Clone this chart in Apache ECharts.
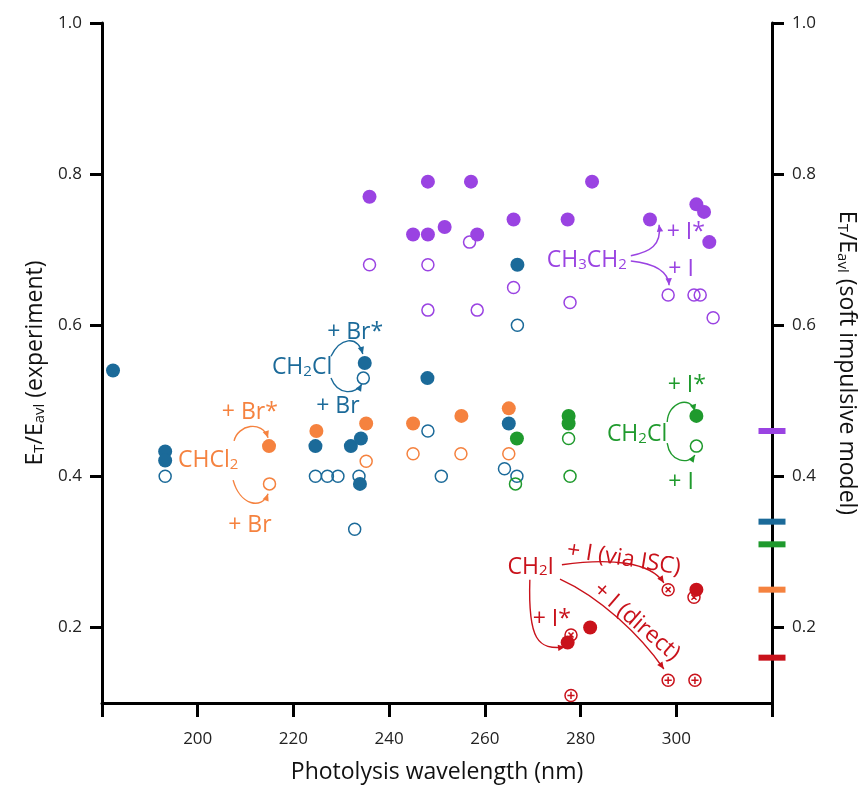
<!DOCTYPE html>
<html>
<head>
<meta charset="utf-8">
<script src="https://cdn.jsdelivr.net/npm/echarts@6/dist/echarts.min.js"></script>
<style>
  html, body { margin: 0; padding: 0; background: #fff; }
  #chart { width: 865px; height: 790px; }
</style>
</head>
<body>
<div id="chart"></div>
<script>
const BLUE = '#1b6a99', ORANGE = '#f5823f', PURPLE = '#9a43e2', GREEN = '#1f9a2d', RED = '#c9121b';
const FONT = 'Open Sans';

// [photolysis wavelength (nm), ET/Eavl]
const ch2clBrStar = [[182.3, 0.54], [193.2, 0.433], [193.2, 0.421], [224.6, 0.44], [232.0, 0.44], [234.1, 0.45],
  [233.9, 0.39], [234.9, 0.55], [248.0, 0.53], [265.0, 0.47], [266.8, 0.68]];
const ch2clBr = [[193.2, 0.40], [224.6, 0.40], [227.1, 0.40], [229.3, 0.40], [233.7, 0.40], [232.8, 0.33],
  [234.6, 0.53], [248.1, 0.46], [250.9, 0.40], [264.1, 0.41], [266.7, 0.40], [266.8, 0.60]];
const chcl2BrStar = [[214.9, 0.44], [224.8, 0.46], [235.2, 0.47], [245.0, 0.47], [255.1, 0.48], [265.0, 0.49]];
const chcl2Br = [[215.0, 0.39], [235.2, 0.42], [245.0, 0.43], [255.0, 0.43], [265.0, 0.43]];
const ethylIStar = [[235.9, 0.77], [248.1, 0.79], [257.1, 0.79], [282.4, 0.79], [245.0, 0.72], [248.1, 0.72],
  [251.6, 0.73], [258.4, 0.72], [266.0, 0.74], [277.3, 0.74], [294.5, 0.74], [304.2, 0.76], [305.8, 0.75], [306.9, 0.71]];
const ethylI = [[235.9, 0.68], [248.1, 0.68], [256.8, 0.71], [266.0, 0.65], [248.1, 0.62], [258.4, 0.62],
  [277.8, 0.63], [298.3, 0.64], [303.7, 0.64], [305.0, 0.64], [307.7, 0.61]];
const ch2clIStar = [[266.7, 0.45], [277.5, 0.48], [277.5, 0.47], [304.2, 0.48]];
const ch2clI = [[277.5, 0.45], [266.4, 0.39], [277.8, 0.40], [304.2, 0.44]];
const ch2iIStar = [[277.3, 0.18], [282.0, 0.20], [304.2, 0.25]];
const ch2iIsc = [[298.3, 0.25], [303.7, 0.24], [278.0, 0.19]];
const ch2iDirect = [[298.3, 0.13], [303.9, 0.13], [278.0, 0.11]];

// soft impulsive model values, drawn on the right axis
const modelValues = [0.46, 0.34, 0.31, 0.25, 0.16];
const modelColors = [PURPLE, BLUE, GREEN, ORANGE, RED];

const xTicks = [180, 200, 220, 240, 260, 280, 300, 320];
const xLabels = [200, 220, 240, 260, 280, 300];
const yTicks = [0.2, 0.4, 0.6, 0.8, 1.0];

// annotations in data coords: [text, x, y, color, rotation deg]
const notes = [
  ['{a|+ Br*}', 232.9, 0.594, BLUE, 0],
  ['{a|CH}{s|2}{a|Cl}', 221.8, 0.547, BLUE, 0],
  ['{a|+ Br}', 229.3, 0.496, BLUE, 0],
  ['{a|CHCl}{s|2}', 202.2, 0.424, ORANGE, 0],
  ['{a|+ Br*}', 210.9, 0.488, ORANGE, 0],
  ['{a|+ Br}', 210.9, 0.338, ORANGE, 0],
  ['{a|CH}{s|3}{a|CH}{s|2}', 281.3, 0.689, PURPLE, 0],
  ['{a|+ I*}', 302.0, 0.726, PURPLE, 0],
  ['{a|+ I}', 301.0, 0.677, PURPLE, 0],
  ['{a|CH}{s|2}{a|Cl}', 291.8, 0.459, GREEN, 0],
  ['{a|+ I*}', 302.2, 0.524, GREEN, 0],
  ['{a|+ I}', 301.0, 0.395, GREEN, 0],
  ['{a|CH}{s|2}{a|I}', 269.6, 0.283, RED, 0],
  ['{a|+ I (via ISC)}', 289.1, 0.294, RED, -9],
  ['{a|+ I (direct)}', 292.0, 0.210, RED, -41],
  ['{a|+ I*}', 274.0, 0.214, RED, 0]
];
// curved arrows: start, control 1, control 2, end (data coords)
const arrows = [
  [[227.85, 0.559], [229.7, 0.583], [233.3, 0.588], [234.5, 0.562], BLUE],
  [[227.85, 0.530], [229.3, 0.506], [233.1, 0.509], [234.3, 0.522], BLUE],
  [[207.6, 0.447], [208.4, 0.468], [213.4, 0.475], [214.7, 0.451], ORANGE],
  [[207.4, 0.395], [208.8, 0.362], [213.4, 0.355], [214.7, 0.377], ORANGE],
  [[290.5, 0.692], [294.5, 0.697], [297.0, 0.706], [296.4, 0.733], PURPLE],
  [[290.5, 0.685], [294.9, 0.682], [298.3, 0.673], [298.5, 0.653], PURPLE],
  [[298.1, 0.472], [298.3, 0.498], [302.9, 0.508], [303.9, 0.486], GREEN],
  [[298.1, 0.444], [298.7, 0.419], [302.5, 0.415], [303.9, 0.428], GREEN],
  [[276.1, 0.283], [286.15, 0.292], [294.5, 0.287], [297.4, 0.259], RED],
  [[275.7, 0.264], [284.1, 0.240], [292.4, 0.190], [297.4, 0.145], RED],
  [[269.4, 0.263], [269.0, 0.183], [271.1, 0.170], [276.75, 0.174], RED]
];

const plusPath = 'path://M0,10A10,10 0 1,1 20,10A10,10 0 1,1 0,10ZM10,4L10,16M4,10L16,10';
const crossPath = 'path://M0,10A10,10 0 1,1 20,10A10,10 0 1,1 0,10ZM5.8,5.8L14.2,14.2M14.2,5.8L5.8,14.2';

function filled(data, color) {
  return { type: 'scatter', data, symbol: 'circle', symbolSize: 14, itemStyle: { color, opacity: 1 }, z: 4 };
}
function open(data, color, symbol) {
  return {
    type: 'scatter', data, symbol: symbol || 'circle', symbolSize: 12, z: 3,
    itemStyle: { color: 'rgba(0,0,0,0)', borderColor: color, borderWidth: 1.5, opacity: 1 }
  };
}

const axisText = { color: '#222', fontSize: 17, fontFamily: FONT };
const nameRich = {
  a: { fontSize: 23, fontFamily: FONT, color: '#111', lineHeight: 30, verticalAlign: 'bottom' },
  s: { fontSize: 15, fontFamily: FONT, color: '#111', lineHeight: 13, verticalAlign: 'bottom' }
};
function yAxis(pos, name, gap, rot) {
  return {
    type: 'value', position: pos, min: 0.1, max: 1.0,
    name, nameLocation: 'middle', nameGap: gap, nameRotate: rot,
    nameTextStyle: { rich: nameRich },
    axisLine: { show: true, onZero: false, lineStyle: { color: '#000', width: 3 } },
    axisTick: { show: true, length: 12, customValues: yTicks, lineStyle: { color: '#000', width: 3 } },
    axisLabel: { customValues: yTicks, margin: 20, formatter: v => v.toFixed(1), ...axisText },
    splitLine: { show: false }
  };
}

const option = {
  backgroundColor: '#fff',
  animation: false,
  grid: { left: 102, right: 93, top: 23, bottom: 87, outerBoundsMode: 'none' },
  xAxis: {
    type: 'value', min: 180, max: 320,
    name: 'Photolysis wavelength (nm)', nameLocation: 'middle', nameGap: 58,
    nameTextStyle: { fontSize: 23, fontFamily: FONT, color: '#111' },
    axisLine: { show: true, onZero: false, lineStyle: { color: '#000', width: 3 } },
    axisTick: { show: true, length: 14, customValues: xTicks, lineStyle: { color: '#000', width: 3 } },
    axisLabel: { customValues: xLabels, margin: 28, ...axisText },
    splitLine: { show: false }
  },
  yAxis: [
    yAxis('left', '{a|E}{s|T}{a|/E}{s|avl}{a| (experiment)}', 50, 90),
    yAxis('right', '{a|E}{s|T}{a|/E}{s|avl}{a| (soft impulsive model)}', 63, -90)
  ],
  series: [
    open(ch2clBr, BLUE), open(chcl2Br, ORANGE), open(ethylI, PURPLE), open(ch2clI, GREEN),
    open(ch2iIsc, RED, crossPath), open(ch2iDirect, RED, plusPath),
    filled(ch2clBrStar, BLUE), filled(chcl2BrStar, ORANGE), filled(ethylIStar, PURPLE),
    filled(ch2clIStar, GREEN), filled(ch2iIStar, RED),
    {
      type: 'scatter', symbol: 'rect', symbolSize: [27, 6], clip: false, z: 5,
      data: modelValues.map((v, i) => ({ value: [320, v], itemStyle: { color: modelColors[i], opacity: 1 } }))
    }
  ]
};

const chart = echarts.init(document.getElementById('chart'));
chart.setOption(option);

const toPx = p => chart.convertToPixel({ xAxisIndex: 0, yAxisIndex: 0 }, p);
const graphics = [];
notes.forEach(([text, x, y, color, rot]) => {
  const [px, py] = toPx([x, y]);
  graphics.push({
    type: 'text', x: px, y: py, rotation: rot * Math.PI / 180, z: 10,
    style: {
      text, align: 'center', verticalAlign: 'middle', fill: color,
      rich: {
        a: { fontSize: 23, fontFamily: FONT, fill: color, lineHeight: 28, verticalAlign: 'bottom' },
        s: { fontSize: 15, fontFamily: FONT, fill: color, lineHeight: 11, verticalAlign: 'bottom' }
      }
    }
  });
});
arrows.forEach(([s, c1, c2, e, color]) => {
  const S = toPx(s), C1 = toPx(c1), C2 = toPx(c2), E = toPx(e);
  graphics.push({
    type: 'bezierCurve', z: 10,
    shape: { x1: S[0], y1: S[1], cpx1: C1[0], cpy1: C1[1], cpx2: C2[0], cpy2: C2[1], x2: E[0], y2: E[1] },
    style: { stroke: color, lineWidth: 1.4, fill: null }
  });
  const ang = Math.atan2(E[1] - C2[1], E[0] - C2[0]);
  const L = 7, W = 3.2;
  const bx = E[0] - L * Math.cos(ang), by = E[1] - L * Math.sin(ang);
  graphics.push({
    type: 'polygon', z: 10,
    shape: { points: [E, [bx + W * Math.sin(ang), by - W * Math.cos(ang)], [bx - W * Math.sin(ang), by + W * Math.cos(ang)]] },
    style: { fill: color }
  });
});
chart.setOption({ graphic: graphics });
</script>
</body>
</html>
